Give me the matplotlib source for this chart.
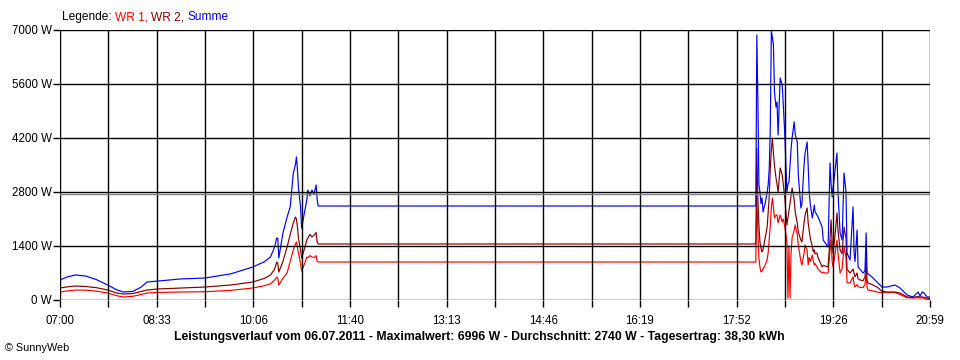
import matplotlib
matplotlib.use("Agg")
import matplotlib.pyplot as plt
import numpy as np

# time in minutes after 07:00
minutes = [0, 7, 15, 25, 35, 46, 55, 61, 70, 78, 84, 94, 116, 140, 165, 186, 197, 203, 207, 209, 210, 211,
           215, 219, 222, 225, 227, 228, 229, 230, 232, 233, 236, 238, 239, 241, 243, 245, 247, 248, 249,
           671, 672, 673, 674, 675, 676, 677, 678, 680, 682, 683, 684, 685, 686, 687, 688, 689, 690.5, 691.5,
           692.5, 694.5, 696.5, 697.5, 699, 701, 702, 703, 704, 705, 706, 708, 709, 711, 712, 714.5, 715.5,
           717.5, 718.5, 720.5, 721.5, 722.5, 723.5, 725.5, 726.5, 727.5, 728, 730, 731, 735, 736, 738, 740.7,
           742.6, 743.6, 744.6, 745.5, 747.5, 749.3, 750.3, 752.3, 754.2, 756.1, 758, 759, 761.9, 764.8, 765.8,
           766.7, 768.7, 769.6, 771.5, 774.4, 776.3, 777.4, 778.3, 779.2, 783.1, 787.9, 792.7, 797.5, 805.3,
           810.1, 816.9, 822.6, 827.5, 829.5, 831.4, 833.3, 836.2, 839]

summe = [518, 600, 648, 620, 530, 389, 260, 207, 220, 330, 467, 490, 545, 570, 680, 856, 990, 1115, 1374, 1608, 1600, 1089,
         1737, 2150, 2411, 3293, 3500, 3708, 3371, 2900, 2411, 1867, 2300, 2593, 2852, 2700, 2850, 2750, 2982, 2600, 2437,
         2437, 6870, 5200, 3000, 2800, 2500, 2645, 2282, 2500, 2800, 3000, 3422, 4500, 6996, 6800, 6611, 5393, 5000, 5134,
         4278, 5756, 5575, 5056, 4278, 2800, 3000, 3060, 3500, 3900, 4200, 4615, 4300, 4100, 3241, 2385, 2500,
         3500, 3800, 4097, 3500, 2800, 2500, 2126, 2300, 2463, 2300, 2200, 2152, 1893, 1556, 1478, 1374,
         3552, 3000, 2671, 2900, 3371, 3811, 2774, 1737, 1556, 3293, 2800, 1219, 1037, 2411, 1219,
         1000, 1815, 856, 800, 700, 750, 1737, 700, 680, 596, 467, 337, 337, 389,
         311, 130, 78, 207, 100, 207, 180, 78, 78]

wr2 = [311, 340, 363, 350, 320, 259, 180, 156, 165, 220, 259, 285, 311, 337, 390, 467, 560, 648, 800, 985, 950, 726,
       1000, 1374, 1700, 2000, 2152, 2100, 1893, 1600, 1297, 1089, 1350, 1556, 1600, 1700, 1633, 1680, 1750, 1500, 1452,
       1452, 3941, 2645, 1945, 1504, 1350, 1245, 1300, 1608, 1900, 2282, 2700, 3422, 3900, 4200, 3800, 3500, 3163, 3000,
       2800, 3422, 3241, 3000, 2645, 1945, 2126, 2300, 2500, 2700, 2904, 2600, 2282, 2000, 1763, 1550, 1504,
       2000, 2200, 2385, 2000, 1800, 1608, 1400, 1245, 1300, 1200, 1219, 1100, 856, 900, 880, 856,
       1600, 2074, 1500, 1219, 1700, 2255, 1800, 1297, 1200, 1893, 1600, 800, 700, 800, 700,
       600, 700, 550, 519, 500, 600, 1100, 500, 441, 400, 337, 230, 207, 207,
       181, 78, 70, 90, 78, 80, 70, 50, 40]

wr1 = [207, 235, 259, 255, 230, 181, 110, 78, 95, 140, 181, 195, 207, 215, 250, 311, 370, 420, 520, 596, 560, 389,
       560, 700, 1000, 1300, 1450, 1504, 1350, 1219, 950, 752, 950, 1115, 1100, 1150, 1115, 1100, 1150, 1000, 985,
       985, 2645, 1763, 1089, 850, 726, 750, 800, 907, 1050, 1245, 1600, 1945, 2400, 2645, 2400, 2126, 2200, 2204,
       2000, 2204, 2022, 2100, 1900, 1500, 50, 1400, 50, 1200, 1608, 1800, 1945, 1700, 1426, 1000, 907,
       1200, 1426, 1300, 907, 1100, 1000, 1167, 1000, 907, 950, 856, 800, 700, 720, 700, 700,
       1300, 1556, 1000, 856, 1200, 1556, 1200, 700, 800, 1374, 1100, 450, 440, 600, 400,
       337, 400, 350, 330, 320, 400, 700, 330, 259, 240, 207, 190, 190, 190,
       140, 60, 50, 60, 50, 60, 40, 20, 15]

tick_labels = ["07:00", "08:33", "10:06", "11:40", "13:13", "14:46", "16:19", "17:52", "19:26", "20:59"]
y_ticks = [0, 1400, 2800, 4200, 5600, 7000]
average = 2740
legend_parts = [("Legende: ", "black"), ("WR 1, ", "#ff0000"), ("WR 2, ", "#800000"), ("Summe", "#0000ff")]
title = "Leistungsverlauf vom 06.07.2011 - Maximalwert: 6996 W - Durchschnitt: 2740 W - Tagesertrag: 38,30 kWh"

plt.rcParams['font.family'] = ['Liberation Sans', 'DejaVu Sans']

fig = plt.figure(figsize=(9.6, 3.6), dpi=100)
ax = fig.add_axes([60/960, 60/360, 870/960, 270/360])

ax.plot(minutes, wr1, color="#ff0000", lw=0.85, zorder=2)
ax.plot(minutes, wr2, color="#800000", lw=0.85, zorder=3)
ax.plot(minutes, summe, color="#0000ff", lw=0.85, zorder=4)

ax.set_xlim(0, 839)
ax.set_ylim(0, 7000)
major = np.linspace(0, 839, len(tick_labels))
minor = (major[:-1] + major[1:]) / 2
ax.set_xticks(major)
ax.set_xticklabels(tick_labels, fontsize=8.3)
ax.set_xticks(minor, minor=True)
ax.set_yticks(y_ticks)
ax.set_yticklabels([f"{v} W" for v in y_ticks], fontsize=8.3)

for v in list(major) + list(minor):
    ax.axvline(v, color="black", lw=1, zorder=5)
for v in y_ticks:
    ax.axhline(v, color="black", lw=1, zorder=5)
ax.axhline(average, color="#808080", lw=1, zorder=5)

for s in ax.spines.values():
    s.set_visible(False)
ax.tick_params(axis='both', which='both', direction='out', length=5, width=1, color='black')
ax.tick_params(axis='y', which='major', pad=1)
ax.tick_params(axis='x', which='major', pad=6)

# legend as coloured text runs
fig.canvas.draw()
renderer = fig.canvas.get_renderer()
x = 62
for txt, col in legend_parts:
    t = fig.text(x/960, 1 - 17/360, txt, fontsize=8.6, va='center', ha='left', color=col)
    bb = t.get_window_extent(renderer=renderer)
    x += bb.width

fig.text(479/960, 1 - 337/360, title, fontsize=8.8, fontweight='bold', ha='center', va='center')
fig.text(5/960, 1 - 348/360, "© SunnyWeb", fontsize=7.8, ha='left', va='center')

fig.savefig("out.png", dpi=100)
